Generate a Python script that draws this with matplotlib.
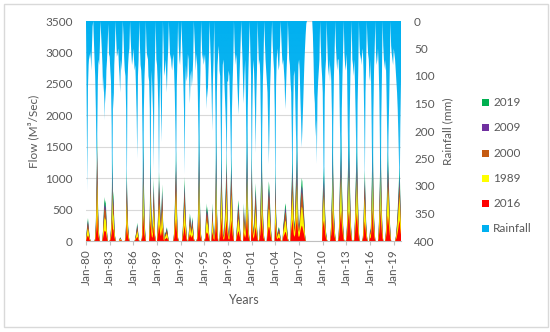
import numpy as np
import matplotlib
matplotlib.use('Agg')
import matplotlib.pyplot as plt
from matplotlib.colors import to_rgb
from matplotlib.path import Path
from matplotlib.patches import Rectangle

plt.rcParams['font.family'] = ['Lato', 'DejaVu Sans']

years = list(range(1980, 2020))

# monthly rainfall (mm), one row per year Jan..Dec
rainfall = [
    [5,150,310,120,80,60,70,55,90,50,10,0],
    [35,70,100,160,260,220,110,70,80,50,0,25],
    [50,80,130,100,180,120,150,90,70,40,5,60],
    [65,90,110,190,400,130,160,80,50,0,35,65],
    [60,50,80,100,130,70,90,60,0,25,65,90],
    [100,160,340,120,80,60,50,0,35,60,80,70],
    [50,70,90,80,120,170,250,100,70,0,45,80],
    [90,120,220,400,160,100,70,0,45,70,60,100],
    [110,160,360,150,90,130,170,270,110,60,0,70],
    [80,110,160,300,140,80,160,220,90,0,45,100],
    [90,70,100,130,80,50,0,35,70,60,80,90],
    [70,60,90,130,200,320,120,70,0,45,70,80],
    [50,0,35,70,110,160,280,120,80,110,100,60],
    [70,110,150,100,90,120,100,70,0,30,60,90],
    [60,80,130,210,400,150,90,0,35,70,60,80],
    [70,60,90,160,120,140,100,60,0,45,80,130],
    [200,110,70,0,90,170,390,130,80,60,45,90],
    [100,200,350,150,80,70,100,130,160,200,280,110],
    [110,90,100,150,220,320,160,110,70,0,45,80],
    [60,70,110,140,170,120,80,45,0,35,70,120],
    [150,100,70,130,240,400,160,90,45,0,60,100],
    [330,160,90,70,110,160,240,140,90,0,45,80],
    [70,100,190,400,200,110,70,0,35,70,90,110],
    [130,190,260,200,120,80,35,0,45,70,90,160],
    [360,120,70,50,70,90,80,45,0,30,60,80],
    [70,90,110,160,130,90,60,0,35,70,80,110],
    [130,210,340,170,100,90,130,190,240,380,150,80],
    [70,90,140,180,230,200,160,120,80,50,25,5],
    [0,0,0,0,0,0,0,0,0,25,70,130],
    [150,210,180,260,140,110,90,70,0,45,80,100],
    [130,260,380,140,90,70,0,45,80,100,70,110],
    [80,110,170,400,190,100,60,0,45,70,90,70],
    [70,100,180,250,390,160,100,50,0,60,80,90],
    [60,90,190,270,400,180,100,50,0,70,80,100],
    [70,110,170,240,370,150,90,0,45,70,60,80],
    [60,50,90,170,300,130,80,0,35,60,70,100],
    [110,70,150,260,400,170,90,50,0,60,80,70],
    [50,80,130,230,400,180,100,0,45,70,80,90],
    [70,130,210,340,210,150,80,0,45,60,70,80],
    [50,60,70,90,110,130,160,210,260,320,190,110],
]

# monthly flow (M3/s) for each land-use scenario, one row per year
flow_2019 = [
    [0,150,280,365,250,120,40,0,0,0,0,0],
    [0,0,50,300,900,1700,700,300,100,0,0,0],
    [0,0,200,450,700,600,650,400,150,0,0,0],
    [0,50,200,500,1400,800,700,300,100,0,0,0],
    [0,0,0,30,60,40,10,0,0,0,0,0],
    [50,300,1150,600,250,100,0,0,0,0,0,0],
    [0,0,0,50,120,200,290,180,60,0,0,0],
    [0,50,400,1700,1000,400,150,0,0,0,0,0],
    [0,400,1400,700,300,200,500,1000,500,100,0,0],
    [0,250,600,1100,800,500,300,600,900,400,100,0],
    [150,120,180,220,150,60,0,0,0,0,0,0],
    [0,0,150,500,1000,1450,700,250,50,0,0,0],
    [0,0,0,150,400,700,1020,600,300,100,0,0],
    [80,250,440,350,200,300,380,200,50,0,0,0],
    [0,50,300,900,1800,800,300,100,0,0,0,0],
    [0,50,250,600,450,550,350,150,0,0,0,0],
    [600,350,150,50,250,800,1800,600,200,0,0,0],
    [250,800,1500,800,300,100,100,300,700,1000,1400,600],
    [250,100,100,400,900,1350,900,400,150,0,0,0],
    [0,150,350,550,650,450,250,80,0,0,0,0],
    [600,350,200,400,1100,1800,800,300,100,0,0,0],
    [1500,700,300,150,350,650,920,600,250,50,0,0],
    [150,400,900,1800,1000,500,200,50,0,0,0,0],
    [450,750,950,850,550,250,80,0,0,0,0,0],
    [1200,500,200,100,180,220,200,120,30,0,0,0],
    [250,350,450,600,550,350,180,50,0,0,0,0],
    [650,1000,1400,900,400,250,400,900,1200,1650,800,300],
    [250,350,650,850,1000,950,750,550,350,120,0,0],
    [0,0,0,0,0,0,0,0,0,0,0,0],
    [0,0,0,0,0,0,0,0,0,0,0,0],
    [750,1000,1180,700,350,150,50,0,0,0,0,0],
    [100,350,800,1800,1100,500,250,80,0,0,0,0],
    [50,300,900,1300,1700,1000,600,250,50,0,0,0],
    [50,300,1000,1400,1700,1100,600,250,50,0,0,0],
    [50,350,900,1250,1600,1000,500,150,0,0,0,0],
    [0,50,300,750,1130,700,300,120,0,0,0,0],
    [200,150,550,1200,1800,900,400,150,0,0,0,0],
    [0,150,500,1050,1800,1000,450,150,0,0,0,0],
    [150,450,950,1450,1150,750,350,120,0,0,0,0],
    [0,0,0,50,150,300,500,750,1000,1180,700,350],
]

flow_2009 = [
    [0,130,245,320,220,105,35,0,0,0,0,0],
    [0,0,45,265,790,1500,615,265,90,0,0,0],
    [0,0,175,395,615,530,570,350,130,0,0,0],
    [0,45,175,440,1230,700,615,265,90,0,0,0],
    [0,0,0,25,55,35,10,0,0,0,0,0],
    [45,265,1010,530,220,90,0,0,0,0,0,0],
    [0,0,0,45,105,175,255,160,55,0,0,0],
    [0,45,350,1500,880,350,130,0,0,0,0,0],
    [0,350,1230,615,265,175,440,880,440,90,0,0],
    [0,220,530,970,700,440,265,530,790,350,90,0],
    [130,105,160,195,130,55,0,0,0,0,0,0],
    [0,0,130,440,880,1275,615,220,45,0,0,0],
    [0,0,0,130,350,615,900,530,265,90,0,0],
    [70,220,385,310,175,265,335,175,45,0,0,0],
    [0,45,265,790,1580,700,265,90,0,0,0,0],
    [0,45,220,530,395,485,310,130,0,0,0,0],
    [530,310,130,45,220,700,1580,530,175,0,0,0],
    [220,700,1320,700,265,90,90,265,615,880,1230,530],
    [220,90,90,350,790,1190,790,350,130,0,0,0],
    [0,130,310,485,570,395,220,70,0,0,0,0],
    [530,310,175,350,970,1580,700,265,90,0,0,0],
    [1320,615,265,130,310,570,810,530,220,45,0,0],
    [130,350,790,1580,880,440,175,45,0,0,0,0],
    [395,660,835,750,485,220,70,0,0,0,0,0],
    [1055,440,175,90,160,195,175,105,25,0,0,0],
    [220,310,395,530,485,310,160,45,0,0,0,0],
    [570,880,1230,790,350,220,350,790,1055,1450,700,265],
    [220,310,570,750,880,835,660,485,310,105,0,0],
    [0,0,0,0,0,0,0,0,0,0,0,0],
    [0,0,0,0,0,0,0,0,0,0,0,0],
    [660,880,1040,615,310,130,45,0,0,0,0,0],
    [90,310,700,1580,970,440,220,70,0,0,0,0],
    [45,265,790,1145,1500,880,530,220,45,0,0,0],
    [45,265,880,1230,1500,970,530,220,45,0,0,0],
    [45,310,790,1100,1410,880,440,130,0,0,0,0],
    [0,45,265,660,995,615,265,105,0,0,0,0],
    [175,130,485,1055,1580,790,350,130,0,0,0,0],
    [0,130,440,925,1580,880,395,130,0,0,0,0],
    [130,395,835,1275,1010,660,310,105,0,0,0,0],
    [0,0,0,45,130,265,440,660,880,1040,615,310],
]

flow_2000 = [
    [0,115,220,285,195,95,30,0,0,0,0,0],
    [0,0,40,235,700,1325,545,235,80,0,0,0],
    [0,0,155,350,545,470,505,310,115,0,0,0],
    [0,40,155,390,1090,625,545,235,80,0,0,0],
    [0,0,0,25,45,30,10,0,0,0,0,0],
    [40,235,895,470,195,80,0,0,0,0,0,0],
    [0,0,0,40,95,155,225,140,45,0,0,0],
    [0,40,310,1325,780,310,115,0,0,0,0,0],
    [0,310,1090,545,235,155,390,780,390,80,0,0],
    [0,195,470,860,625,390,235,470,700,310,80,0],
    [115,95,140,170,115,45,0,0,0,0,0,0],
    [0,0,115,390,780,1130,545,195,40,0,0,0],
    [0,0,0,115,310,545,795,470,235,80,0,0],
    [60,195,345,275,155,235,295,155,40,0,0,0],
    [0,40,235,700,1400,625,235,80,0,0,0,0],
    [0,40,195,470,350,430,275,115,0,0,0,0],
    [470,275,115,40,195,625,1400,470,155,0,0,0],
    [195,625,1170,625,235,80,80,235,545,780,1090,470],
    [195,80,80,310,700,1055,700,310,115,0,0,0],
    [0,115,275,430,505,350,195,60,0,0,0,0],
    [470,275,155,310,860,1400,625,235,80,0,0,0],
    [1170,545,235,115,275,505,720,470,195,40,0,0],
    [115,310,700,1400,780,390,155,40,0,0,0,0],
    [350,585,740,665,430,195,60,0,0,0,0,0],
    [935,390,155,80,140,170,155,95,25,0,0,0],
    [195,275,350,470,430,275,140,40,0,0,0,0],
    [505,780,1090,700,310,195,310,700,935,1285,625,235],
    [195,275,505,665,780,740,585,430,275,95,0,0],
    [0,0,0,0,0,0,0,0,0,0,0,0],
    [0,0,0,0,0,0,0,0,0,0,0,0],
    [585,780,920,545,275,115,40,0,0,0,0,0],
    [80,275,625,1400,860,390,195,60,0,0,0,0],
    [40,235,700,1015,1325,780,470,195,40,0,0,0],
    [40,235,780,1090,1325,860,470,195,40,0,0,0],
    [40,275,700,975,1250,780,390,115,0,0,0,0],
    [0,40,235,585,880,545,235,95,0,0,0,0],
    [155,115,430,935,1400,700,310,115,0,0,0,0],
    [0,115,390,820,1400,780,350,115,0,0,0,0],
    [115,350,740,1130,895,585,275,95,0,0,0,0],
    [0,0,0,40,115,235,390,585,780,920,545,275],
]

flow_1989 = [
    [0,80,155,200,140,65,20,0,0,0,0,0],
    [0,0,30,165,495,935,385,165,55,0,0,0],
    [0,0,110,250,385,330,360,220,80,0,0,0],
    [0,30,110,275,770,440,385,165,55,0,0,0],
    [0,0,0,15,35,20,5,0,0,0,0,0],
    [30,165,630,330,140,55,0,0,0,0,0,0],
    [0,0,0,30,65,110,160,100,35,0,0,0],
    [0,30,220,935,550,220,80,0,0,0,0,0],
    [0,220,770,385,165,110,275,550,275,55,0,0],
    [0,140,330,605,440,275,165,330,495,220,55,0],
    [80,65,100,120,80,35,0,0,0,0,0,0],
    [0,0,80,275,550,800,385,140,30,0,0,0],
    [0,0,0,80,220,385,560,330,165,55,0,0],
    [45,140,240,195,110,165,210,110,30,0,0,0],
    [0,30,165,495,990,440,165,55,0,0,0,0],
    [0,30,140,330,250,300,195,80,0,0,0,0],
    [330,195,80,30,140,440,990,330,110,0,0,0],
    [140,440,825,440,165,55,55,165,385,550,770,330],
    [140,55,55,220,495,740,495,220,80,0,0,0],
    [0,80,195,300,360,250,140,45,0,0,0,0],
    [330,195,110,220,605,990,440,165,55,0,0,0],
    [825,385,165,80,195,360,505,330,140,30,0,0],
    [80,220,495,990,550,275,110,30,0,0,0,0],
    [250,410,520,470,300,140,45,0,0,0,0,0],
    [660,275,110,55,100,120,110,65,15,0,0,0],
    [140,195,250,330,300,195,100,30,0,0,0,0],
    [360,550,770,495,220,140,220,495,660,905,440,165],
    [140,195,360,470,550,520,410,300,195,65,0,0],
    [0,0,0,0,0,0,0,0,0,0,0,0],
    [0,0,0,0,0,0,0,0,0,0,0,0],
    [450,600,710,420,210,90,30,0,0,0,0,0],
    [60,210,480,1080,660,300,150,50,0,0,0,0],
    [30,180,540,780,1020,600,360,150,30,0,0,0],
    [30,180,600,840,1020,660,360,150,30,0,0,0],
    [30,210,540,750,960,600,300,90,0,0,0,0],
    [0,30,180,450,680,420,180,70,0,0,0,0],
    [120,90,330,720,1080,540,240,90,0,0,0,0],
    [0,90,300,630,1080,600,270,90,0,0,0,0],
    [90,270,570,870,690,450,210,70,0,0,0,0],
    [0,0,0,30,90,180,300,450,600,710,420,210],
]

flow_2016 = [
    [0,35,70,90,65,30,10,0,0,0,0,0],
    [0,0,15,75,220,415,170,75,25,0,0,0],
    [0,0,50,110,170,145,160,100,35,0,0,0],
    [0,15,50,120,345,195,170,75,25,0,0,0],
    [0,0,0,5,15,10,5,0,0,0,0,0],
    [15,75,280,145,65,25,0,0,0,0,0,0],
    [0,0,0,15,30,50,70,45,15,0,0,0],
    [0,15,100,415,245,100,35,0,0,0,0,0],
    [0,100,345,170,75,50,120,245,120,25,0,0],
    [0,65,145,270,195,120,75,145,220,100,25,0],
    [35,30,45,55,35,15,0,0,0,0,0,0],
    [0,0,35,120,245,355,170,65,15,0,0,0],
    [0,0,0,35,100,170,250,145,75,25,0,0],
    [20,65,110,90,50,75,95,50,15,0,0,0],
    [0,15,75,220,440,195,75,25,0,0,0,0],
    [0,15,65,145,110,135,90,35,0,0,0,0],
    [145,90,35,15,65,195,440,145,50,0,0,0],
    [65,195,370,195,75,25,25,75,170,245,345,145],
    [65,25,25,100,220,330,220,100,35,0,0,0],
    [0,35,90,135,160,110,65,20,0,0,0,0],
    [145,90,50,100,270,440,195,75,25,0,0,0],
    [370,170,75,35,90,160,225,145,65,15,0,0],
    [35,100,220,440,245,120,50,15,0,0,0,0],
    [110,180,230,210,135,65,20,0,0,0,0,0],
    [295,120,50,25,45,55,50,30,5,0,0,0],
    [65,90,110,145,135,90,45,15,0,0,0,0],
    [160,245,345,220,100,65,100,220,295,405,195,75],
    [65,90,160,210,245,230,180,135,90,30,0,0],
    [0,0,0,0,0,0,0,0,0,0,0,0],
    [0,0,0,0,0,0,0,0,0,0,0,0],
    [210,280,330,195,100,40,15,0,0,0,0,0],
    [30,100,225,500,310,140,70,20,0,0,0,0],
    [15,85,250,365,475,280,170,70,15,0,0,0],
    [15,85,280,390,475,310,170,70,15,0,0,0],
    [15,100,250,350,450,280,140,40,0,0,0,0],
    [0,15,85,210,315,195,85,35,0,0,0,0],
    [55,40,155,335,505,250,110,40,0,0,0,0],
    [0,40,140,295,505,280,125,40,0,0,0,0],
    [40,125,265,405,320,210,100,35,0,0,0,0],
    [0,0,0,15,40,85,140,210,280,330,195,100],
]

# series in drawing order (back to front) and legend order
series_labels = ['2019', '2009', '2000', '1989', '2016']
series_colors = ['#00B050', '#7030A0', '#C55A11', '#FFFF00', '#FF0000']
rain_label = 'Rainfall'
rain_color = '#00B0F0'
tick_years = [1980, 1983, 1986, 1989, 1992, 1995, 1998, 2001, 2004, 2007, 2010, 2013, 2016, 2019]
tick_labels = ['Jan-80', 'Jan-83', 'Jan-86', 'Jan-89', 'Jan-92', 'Jan-95', 'Jan-98',
               'Jan-01', 'Jan-04', 'Jan-07', 'Jan-10', 'Jan-13', 'Jan-16', 'Jan-19']

W, H = 550, 332
fig = plt.figure(figsize=(W / 100, H / 100), dpi=100)
ax = fig.add_axes([86 / W, 1 - 241 / H, (401 - 86) / W, 220 / H])
ax2 = ax.twinx()

x = years[0] + np.arange(len(years) * 12) / 12.0
flows = [np.array(s, dtype=float).ravel() for s in (flow_2019, flow_2009, flow_2000, flow_1989, flow_2016)]
rain = np.array(rainfall, dtype=float).ravel()


def gradient_fill(axis, xs, lo, hi, color, v0, v1, stops, alphas, z):
    coll = axis.fill_between(xs, lo, hi, facecolor='none', edgecolor='none', linewidth=0)
    paths = coll.get_paths()
    if not paths:
        return
    path = Path.make_compound_path(*paths)
    n = 256
    vals = np.linspace(v0, v1, n)
    alpha = np.interp(vals, stops, alphas)
    img = np.zeros((n, 2, 4))
    img[..., :3] = to_rgb(color)
    img[..., 3] = alpha[:, None]
    im = axis.imshow(img, extent=[xs[0], xs[-1], v0, v1], origin='lower',
                     aspect='auto', interpolation='bilinear', zorder=z)
    im.set_clip_path(path, transform=axis.transData)


zero = np.zeros_like(x)
for i, (vals, col) in enumerate(zip(flows, series_colors)):
    gradient_fill(ax, x, zero, vals, col, 0, 3500, [0, 300, 2000, 3500], [1.0, 0.95, 0.75, 0.6], 2 + i * 0.1)

gradient_fill(ax2, x, zero, rain, rain_color, 0, 400, [0, 150, 400], [1.0, 0.95, 0.55], 3)

ax.set_xlim(1980, x[-1])
ax.set_ylim(0, 3500)
ax.set_yticks(np.arange(0, 3501, 500))
ax2.set_xlim(1980, x[-1])
ax2.set_ylim(400, 0)
ax2.set_yticks(np.arange(0, 401, 50))

ax.grid(axis='y', color='#d9d9d9', linewidth=0.8)
ax.set_axisbelow(True)
for a in (ax, ax2):
    for s in a.spines.values():
        s.set_visible(False)
ax.spines['bottom'].set_visible(True)
ax.spines['bottom'].set_color('#bfbfbf')
ax.spines['bottom'].set_linewidth(0.8)

ax.set_xticks(tick_years)
ax.set_xticklabels(tick_labels, rotation=90)
ax.tick_params(axis='x', length=3, width=0.8, color='#bfbfbf', pad=3, labelsize=8.5, labelcolor='#595959')
ax.tick_params(axis='y', length=0, pad=9.4, labelsize=8.5, labelcolor='#595959')
ax2.tick_params(axis='y', length=0, pad=9.4, labelsize=8.5, labelcolor='#595959')

fig.text(33 / W, 1 - 131 / H, 'Flow (M³/Sec)', rotation=90, ha='center', va='center', fontsize=8.5, color='#595959')
fig.text(448 / W, 1 - 131 / H, 'Rainfall (mm)', rotation=90, ha='center', va='center', fontsize=8.5, color='#595959')
fig.text(243 / W, 1 - 300 / H, 'Years', ha='center', va='center', fontsize=9, color='#595959')

legend_items = list(zip(series_labels, series_colors)) + [(rain_label, rain_color)]
legend_y = [102.7, 127.7, 153.3, 178.3, 203.7, 228.7]
for (lab, col), yy in zip(legend_items, legend_y):
    fig.patches.append(Rectangle((482 / W, 1 - (yy + 3.5) / H), 7 / W, 7 / H,
                                 transform=fig.transFigure, facecolor=col, edgecolor='none'))
    fig.text(493 / W, 1 - yy / H, lab, ha='left', va='center', fontsize=8.5, color='#595959')

fig.patches.append(Rectangle((4 / W, 1 - 327 / H), 544 / W, 323 / H, transform=fig.transFigure,
                             fill=False, edgecolor='#d9d9d9', linewidth=1))

fig.savefig('out.png', dpi=100)
